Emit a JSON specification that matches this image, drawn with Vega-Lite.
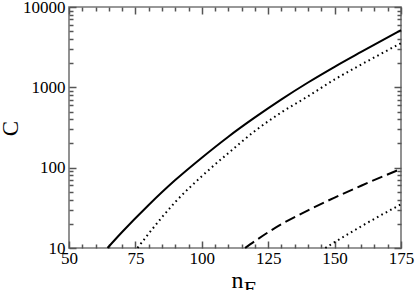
{
  "$schema": "https://vega.github.io/schema/vega-lite/v6.json",
  "width": 332,
  "height": 241,
  "autosize": "none",
  "padding": {"left": 69, "top": 7, "right": 14, "bottom": 42},
  "background": "white",
  "datasets": {
    "solid": [
      {"n": 64.5, "C": 10}, {"n": 70, "C": 15.8}, {"n": 80, "C": 34.3}, {"n": 90, "C": 70},
      {"n": 100, "C": 133}, {"n": 110, "C": 243}, {"n": 120, "C": 422}, {"n": 130, "C": 708},
      {"n": 140, "C": 1148}, {"n": 150, "C": 1800}, {"n": 160, "C": 2754}, {"n": 175, "C": 5150}
    ],
    "dottedUpper": [
      {"n": 75.8, "C": 10}, {"n": 80, "C": 15.1}, {"n": 90, "C": 37.3}, {"n": 100, "C": 78.2},
      {"n": 110, "C": 152}, {"n": 120, "C": 286}, {"n": 130, "C": 489}, {"n": 140, "C": 774},
      {"n": 150, "C": 1253}, {"n": 160, "C": 1919}, {"n": 175, "C": 3550}
    ],
    "dashed": [
      {"n": 116.3, "C": 10}, {"n": 120, "C": 12.2}, {"n": 130, "C": 19.8}, {"n": 140, "C": 29.4},
      {"n": 150, "C": 42.4}, {"n": 160, "C": 59.6}, {"n": 175, "C": 96.6}
    ],
    "dottedLower": [
      {"n": 146.5, "C": 10}, {"n": 150, "C": 11.8}, {"n": 160, "C": 18.6}, {"n": 175, "C": 35}
    ]
  },
  "config": {
    "view": {"stroke": "#777777", "strokeWidth": 1.6}
  },
  "resolve": {"axis": {"x": "independent", "y": "independent"}},
  "layer": [
    {
      "data": {"name": "solid"},
      "mark": {"type": "line", "color": "#000000", "strokeWidth": 2, "interpolate": "monotone"},
      "encoding": {
        "x": {"field": "n", "type": "quantitative",
          "scale": {"domain": [50, 175], "nice": false, "zero": false},
          "axis": {"orient": "bottom", "values": [50, 75, 100, 125, 150, 175], "offset": -7, "tickSize": 7,
            "tickColor": "#555555", "tickWidth": 1.5, "grid": false, "domain": false,
            "labelFont": "Liberation Serif", "labelFontSize": 17, "labelColor": "#000000",
            "labelPadding": 2, "labelFlush": false, "labelOverlap": false,
            "title": "n", "titleFont": "Liberation Serif", "titleFontWeight": "normal", "titleColor": "#000000",
            "titleFontSize": 24, "titleX": 168, "titleY": 46,
            "titleAlign": "center", "titleBaseline": "alphabetic"}},
        "y": {"field": "C", "type": "quantitative",
          "scale": {"type": "log", "domain": [10, 10000], "nice": false},
          "axis": {"orient": "left", "values": [10, 100, 1000, 10000], "offset": -7, "tickSize": 7,
            "tickColor": "#555555", "tickWidth": 1.5, "grid": false, "domain": false,
            "labelFont": "Liberation Serif", "labelFontSize": 17, "labelColor": "#000000",
            "labelPadding": 4, "labelFlush": false, "labelOverlap": false, "format": "d",
            "title": "C", "titleFont": "Liberation Serif", "titleFontWeight": "normal", "titleColor": "#000000",
            "titleFontSize": 23, "titleAngle": -90, "titleX": -66, "titleY": 121,
            "titleAlign": "center", "titleBaseline": "middle"}}
      }
    },
    {
      "data": {"name": "dottedUpper"},
      "mark": {"type": "line", "color": "#000000", "strokeWidth": 2, "strokeDash": [1.6, 3.4], "interpolate": "monotone"},
      "encoding": {
        "x": {"field": "n", "type": "quantitative",
          "scale": {"domain": [50, 175], "nice": false, "zero": false},
          "axis": {"orient": "bottom", "values": [55, 60, 65, 70, 80, 85, 90, 95, 105, 110, 115, 120, 130, 135, 140, 145, 155, 160, 165, 170],
            "offset": -4, "tickSize": 4, "tickColor": "#555555", "tickWidth": 1.5, "grid": false, "domain": false,
            "labels": false,
            "title": "E", "titleFont": "Liberation Serif", "titleFontWeight": "normal", "titleColor": "#000000",
            "titleFontSize": 22, "titleX": 181, "titleY": 51,
            "titleAlign": "center", "titleBaseline": "alphabetic"}},
        "y": {"field": "C", "type": "quantitative",
          "scale": {"type": "log", "domain": [10, 10000], "nice": false},
          "axis": {"orient": "left", "values": [20, 30, 40, 50, 60, 70, 80, 90, 200, 300, 400, 500, 600, 700, 800, 900, 2000, 3000, 4000, 5000, 6000, 7000, 8000, 9000],
            "offset": -4, "tickSize": 4, "tickColor": "#555555", "tickWidth": 1.5, "grid": false, "domain": false,
            "labels": false, "title": null}}
      }
    },
    {
      "data": {"name": "dashed"},
      "mark": {"type": "line", "color": "#000000", "strokeWidth": 2, "strokeDash": [11, 5], "interpolate": "monotone"},
      "encoding": {
        "x": {"field": "n", "type": "quantitative",
          "scale": {"domain": [50, 175], "nice": false, "zero": false},
          "axis": {"orient": "top", "values": [50, 75, 100, 125, 150, 175], "offset": -7, "tickSize": 7,
            "tickColor": "#555555", "tickWidth": 1.5, "grid": false, "domain": false, "labels": false, "title": null}},
        "y": {"field": "C", "type": "quantitative",
          "scale": {"type": "log", "domain": [10, 10000], "nice": false},
          "axis": {"orient": "right", "values": [10, 100, 1000, 10000], "offset": -7, "tickSize": 7,
            "tickColor": "#555555", "tickWidth": 1.5, "grid": false, "domain": false, "labels": false, "title": null}}
      }
    },
    {
      "data": {"name": "dottedLower"},
      "mark": {"type": "line", "color": "#000000", "strokeWidth": 2, "strokeDash": [1.6, 3.4], "interpolate": "monotone"},
      "encoding": {
        "x": {"field": "n", "type": "quantitative",
          "scale": {"domain": [50, 175], "nice": false, "zero": false},
          "axis": {"orient": "top", "values": [55, 60, 65, 70, 80, 85, 90, 95, 105, 110, 115, 120, 130, 135, 140, 145, 155, 160, 165, 170],
            "offset": -4, "tickSize": 4, "tickColor": "#555555", "tickWidth": 1.5, "grid": false, "domain": false,
            "labels": false, "title": null}},
        "y": {"field": "C", "type": "quantitative",
          "scale": {"type": "log", "domain": [10, 10000], "nice": false},
          "axis": {"orient": "right", "values": [20, 30, 40, 50, 60, 70, 80, 90, 200, 300, 400, 500, 600, 700, 800, 900, 2000, 3000, 4000, 5000, 6000, 7000, 8000, 9000],
            "offset": -4, "tickSize": 4, "tickColor": "#555555", "tickWidth": 1.5, "grid": false, "domain": false,
            "labels": false, "title": null}}
      }
    }
  ]
}
